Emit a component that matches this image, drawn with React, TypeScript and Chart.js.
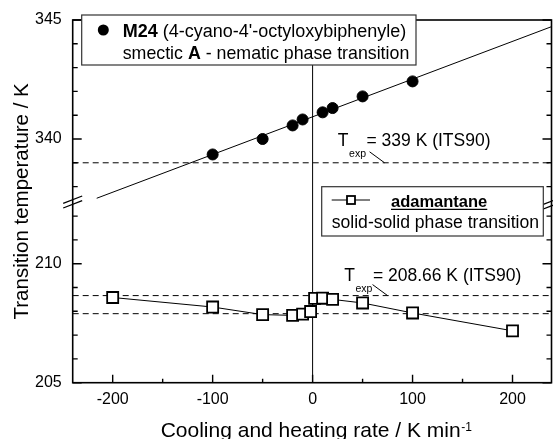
import React, { useEffect, useRef } from 'react';
import { Chart, registerables } from 'chart.js';

Chart.register(...registerables);

const FONT = '"Liberation Sans", Arial, Helvetica, sans-serif';

// ---- axis description ----
const X_MIN = -240;
const X_MAX = 239;
const X_MAJOR = [-200, -100, 0, 100, 200];
const X_MINOR = [-150, -50, 50, 150];

// broken temperature axis: lower part 205..~212.6 K, upper part ~337.2..345 K
const Y_LOW_MIN = 205;
const Y_TOP_REAL = 345;
const Y_TOP_AXIS = 220.24; // axis position of 345 K
const BREAK_OFFSET = Y_TOP_REAL - Y_TOP_AXIS;
const Y_MAJOR = [205, 210, 340, 345];
const Y_MINOR = [206, 207, 208, 209, 211, 212, 338, 339, 341, 342, 343, 344];

// ---- data (K/min, K) ----
const M24_RATE = [-100, -50, -20, -10, 10, 20, 50, 100];
const M24_T = [339.35, 340.0, 340.57, 340.82, 341.12, 341.3, 341.79, 342.42];
const M24_FIT_RATE = [-216, 239];
const M24_FIT_T = [337.51, 344.72];
const M24_TEXP = 339;

const ADA_RATE = [-200, -100, -50, -20, -10, -2, 2, 10, 20, 50, 100, 200];
const ADA_T = [208.58, 208.18, 207.86, 207.83, 207.88, 207.99, 208.54, 208.55, 208.5, 208.35, 207.93, 207.18];
const ADA_TEXP = 208.66;
const ADA_REF = 207.9;

const toAxis = (t: number) => (t > 300 ? t - BREAK_OFFSET : t);

const xTicks = [...X_MAJOR.map((v) => ({ v, major: true })), ...X_MINOR.map((v) => ({ v, major: false }))].sort(
  (a, b) => a.v - b.v
);
const yTicks = [...Y_MAJOR.map((v) => ({ v, major: true })), ...Y_MINOR.map((v) => ({ v, major: false }))].sort(
  (a, b) => a.v - b.v
);

// target plot-area frame in the 553x439 picture
const AREA = { left: 72.7, right: 551.5, top: 20, bottom: 382.7 };

function drawRuns(ctx: CanvasRenderingContext2D, x: number, y: number, runs: [string, boolean, number][]) {
  let cx = x;
  for (const [t, b, size] of runs) {
    ctx.font = `${b ? 'bold ' : ''}${size}px ${FONT}`;
    ctx.fillText(t, cx, y);
    cx += ctx.measureText(t).width;
  }
  return cx;
}

function drawTexp(ctx: CanvasRenderingContext2D, px: number, py: number, value: string, dxT: number, dyBase: number) {
  ctx.beginPath();
  ctx.lineWidth = 1;
  ctx.moveTo(px - 15, py - 11);
  ctx.lineTo(px, py);
  ctx.stroke();
  const size = 17.5;
  const bx = px + dxT;
  const by = py + dyBase;
  ctx.font = `${size}px ${FONT}`;
  ctx.textAlign = 'left';
  ctx.textBaseline = 'alphabetic';
  ctx.fillText('T', bx, by);
  let cx = bx + ctx.measureText('T').width + 0.5;
  ctx.font = `10.5px ${FONT}`;
  ctx.fillText('exp', cx, by + 11);
  cx += ctx.measureText('exp').width + 0.5;
  ctx.font = `${size}px ${FONT}`;
  ctx.fillText('= ' + value, cx, by);
}

const decorPlugin = {
  id: 'decor',
  afterDraw(chart: any) {
    const { ctx, chartArea: a, scales } = chart;
    const xs = scales.x;
    const ys = scales.y;
    ctx.save();
    ctx.strokeStyle = '#000';
    ctx.fillStyle = '#000';

    // frame
    ctx.lineWidth = 1.6;
    ctx.strokeRect(a.left, a.top, a.right - a.left, a.bottom - a.top);

    // ticks (inward)
    ctx.lineWidth = 1.4;
    ctx.beginPath();
    for (const t of xTicks) {
      const px = xs.getPixelForValue(t.v);
      const len = t.major ? 8 : 4;
      ctx.moveTo(px, a.bottom);
      ctx.lineTo(px, a.bottom - len);
    }
    for (const t of yTicks) {
      const py = ys.getPixelForValue(toAxis(t.v));
      const len = t.major ? 9 : 5;
      ctx.moveTo(a.left, py);
      ctx.lineTo(a.left + len, py);
      ctx.moveTo(a.right, py);
      ctx.lineTo(a.right - len, py);
    }
    ctx.stroke();

    // axis break marks
    ctx.lineWidth = 1.3;
    ctx.beginPath();
    for (const [cx, cy] of [
      [a.left, 202],
      [a.right, 203.5],
    ]) {
      for (const d of [-2.3, 2.3]) {
        ctx.moveTo(cx - 9.5, cy + d + 3.7);
        ctx.lineTo(cx + 9.5, cy + d - 3.7);
      }
    }
    ctx.stroke();

    // legend 1 (M24)
    ctx.fillStyle = '#fff';
    ctx.fillRect(81.7, 15, 334.3, 50);
    ctx.strokeStyle = '#333';
    ctx.lineWidth = 1.2;
    ctx.strokeRect(81.7, 15, 334.3, 50);
    ctx.fillStyle = '#000';
    ctx.strokeStyle = '#000';
    ctx.beginPath();
    ctx.arc(103.3, 30, 5.5, 0, Math.PI * 2);
    ctx.fill();
    ctx.textAlign = 'left';
    ctx.textBaseline = 'alphabetic';
    drawRuns(ctx, 122.7, 36.7, [
      ['M24', true, 18],
      [" (4-cyano-4'-octyloxybiphenyle)", false, 18],
    ]);
    drawRuns(ctx, 122.7, 59.3, [
      ['smectic ', false, 17.8],
      ['A', true, 17.8],
      [' - nematic phase transition', false, 17.8],
    ]);

    // legend 2 (adamantane)
    ctx.fillStyle = '#fff';
    ctx.fillRect(321.7, 186.7, 221.6, 49.3);
    ctx.strokeStyle = '#333';
    ctx.lineWidth = 1.2;
    ctx.strokeRect(321.7, 186.7, 221.6, 49.3);
    ctx.strokeStyle = '#000';
    ctx.lineWidth = 1;
    ctx.beginPath();
    ctx.moveTo(331.7, 200);
    ctx.lineTo(370, 200);
    ctx.stroke();
    ctx.fillStyle = '#fff';
    ctx.fillRect(347, 196, 8, 8);
    ctx.lineWidth = 1.8;
    ctx.strokeRect(347, 196, 8, 8);
    ctx.fillStyle = '#000';
    const endA = drawRuns(ctx, 391, 206.7, [['adamantane', true, 16.5]]);
    ctx.lineWidth = 1.3;
    ctx.beginPath();
    ctx.moveTo(391, 209.3);
    ctx.lineTo(endA, 209.3);
    ctx.stroke();
    drawRuns(ctx, 331.7, 228.3, [['solid-solid phase transition', false, 17.6]]);

    // T_exp annotations
    ctx.lineWidth = 1;
    drawTexp(ctx, xs.getPixelForValue(72), ys.getPixelForValue(toAxis(M24_TEXP)), '339 K (ITS90)', -46.7, -16.5);
    drawTexp(ctx, xs.getPixelForValue(75), ys.getPixelForValue(toAxis(ADA_TEXP)), '208.66 K (ITS90)', -43.3, -14.5);

    // axis titles
    ctx.fillStyle = '#000';
    ctx.textBaseline = 'alphabetic';
    const xt = 'Cooling and heating rate / K min';
    ctx.font = `21px ${FONT}`;
    const w1 = ctx.measureText(xt).width;
    ctx.font = `12px ${FONT}`;
    const w2 = ctx.measureText('-1').width;
    const sx = 316 - (w1 + w2) / 2;
    ctx.font = `21px ${FONT}`;
    ctx.textAlign = 'left';
    ctx.fillText(xt, sx, 436.7);
    ctx.font = `12px ${FONT}`;
    ctx.fillText('-1', sx + w1 + 0.5, 430.5);

    ctx.save();
    ctx.translate(28.3, (a.top + a.bottom) / 2);
    ctx.rotate(-Math.PI / 2);
    ctx.textAlign = 'center';
    ctx.font = `20.5px ${FONT}`;
    ctx.fillText('Transition temperature / K', 0, 0);
    ctx.restore();

    ctx.restore();
  },
};

export default function App() {
  const ref = useRef<HTMLCanvasElement>(null);
  useEffect(() => {
    document.body.style.margin = '0';
    const canvas = ref.current!;
    const line = (pts: { x: number; y: number }[], dash: number[] = []) => ({
      data: pts,
      showLine: true,
      borderColor: '#000',
      borderWidth: 1,
      borderDash: dash,
      pointRadius: 0,
      fill: false,
    });
    const chart = new Chart(canvas, {
      type: 'scatter',
      data: {
        datasets: [
          {
            label: 'M24',
            data: M24_RATE.map((r, i) => ({ x: r, y: toAxis(M24_T[i]) })),
            pointStyle: 'circle',
            pointRadius: 5.5,
            backgroundColor: '#000',
            borderColor: '#000',
            showLine: false,
          },
          {
            label: 'adamantane',
            data: ADA_RATE.map((r, i) => ({ x: r, y: toAxis(ADA_T[i]) })),
            showLine: true,
            borderColor: '#000',
            borderWidth: 1,
            pointStyle: 'rect',
            pointRadius: 7.8,
            pointBackgroundColor: '#fff',
            pointBorderColor: '#000',
            pointBorderWidth: 1.8,
          },
          line(M24_FIT_RATE.map((r, i) => ({ x: r, y: toAxis(M24_FIT_T[i]) }))),
          line(
            [
              { x: X_MIN, y: toAxis(M24_TEXP) },
              { x: X_MAX, y: toAxis(M24_TEXP) },
            ],
            [6, 4]
          ),
          line(
            [
              { x: X_MIN, y: ADA_TEXP },
              { x: X_MAX, y: ADA_TEXP },
            ],
            [6, 4]
          ),
          line(
            [
              { x: X_MIN, y: ADA_REF },
              { x: X_MAX, y: ADA_REF },
            ],
            [6, 4]
          ),
          line([
            { x: 0, y: Y_LOW_MIN },
            { x: 0, y: Y_TOP_AXIS },
          ]),
        ] as any,
      },
      options: {
        responsive: false,
        animation: false,
        devicePixelRatio: 1,
        events: [],
        layout: { autoPadding: false, padding: { top: AREA.top, right: 553 - AREA.right, left: 0, bottom: 0 } },
        plugins: { legend: { display: false }, tooltip: { enabled: false } },
        scales: {
          x: {
            type: 'linear',
            min: X_MIN,
            max: X_MAX,
            grid: { display: false, drawTicks: false },
            border: { display: false },
            afterBuildTicks: (s: any) => {
              s.ticks = xTicks.map((t) => ({ value: t.v }));
            },
            afterFit: (s: any) => {
              s.height = 439 - AREA.bottom;
              s.paddingLeft = 0;
              s.paddingRight = 0;
              s.paddingTop = 0;
              s.paddingBottom = 0;
            },
            ticks: {
              autoSkip: false,
              maxRotation: 0,
              padding: 7,
              color: '#000',
              font: { family: FONT, size: 16 },
              callback: (_v: any, i: number) => (xTicks[i].major ? String(xTicks[i].v) : ''),
            },
          },
          y: {
            type: 'linear',
            min: Y_LOW_MIN,
            max: Y_TOP_AXIS,
            grid: { display: false, drawTicks: false },
            border: { display: false },
            afterBuildTicks: (s: any) => {
              s.ticks = yTicks.map((t) => ({ value: toAxis(t.v) }));
            },
            afterFit: (s: any) => {
              s.width = AREA.left;
              s.paddingLeft = 0;
              s.paddingRight = 0;
              s.paddingTop = 0;
              s.paddingBottom = 0;
            },
            ticks: {
              autoSkip: false,
              padding: 11,
              color: '#000',
              font: { family: FONT, size: 16 },
              callback: (_v: any, i: number) => (yTicks[i].major ? String(yTicks[i].v) : ''),
            },
          },
        },
      } as any,
      plugins: [decorPlugin],
    });
    return () => chart.destroy();
  }, []);
  return (
    <div style={{ width: 553, height: 439 }}>
      <canvas ref={ref} width={553} height={439} style={{ display: 'block' }} />
    </div>
  );
}
